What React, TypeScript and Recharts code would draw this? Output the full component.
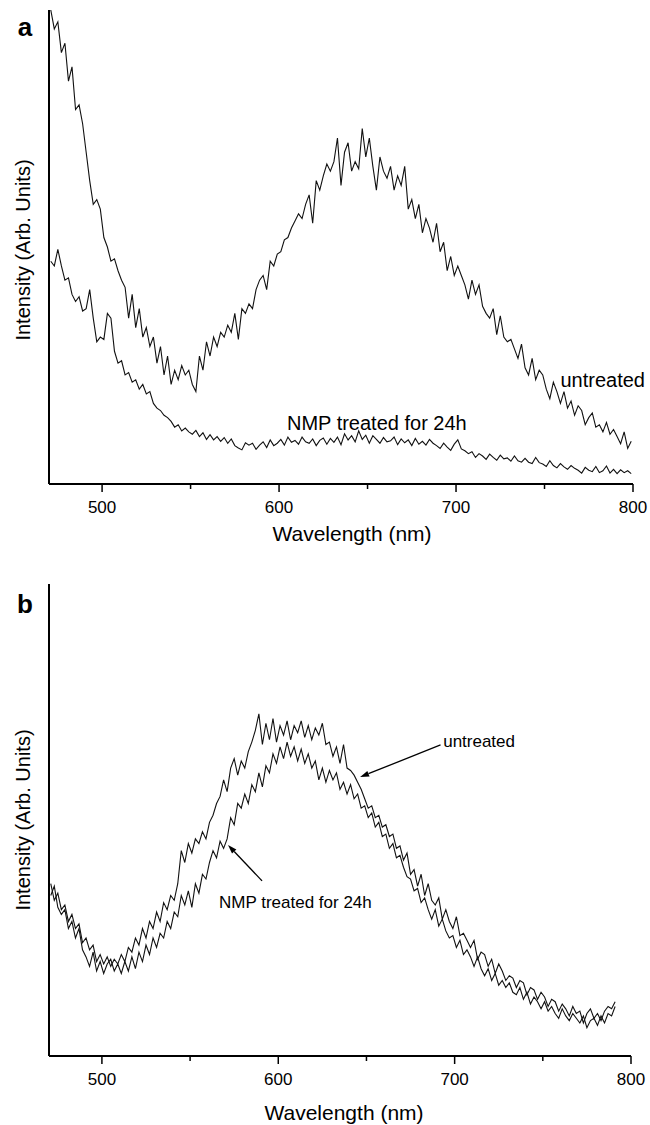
import React from 'react';
import { LineChart, Line, XAxis, YAxis, ReferenceLine, ReferenceDot } from 'recharts';

const wavelengths = [
  471, 473, 475, 477, 479, 481, 483, 485, 487, 489,
  491, 493, 495, 497, 499, 501, 503, 505, 507, 509,
  511, 513, 515, 517, 519, 521, 523, 525, 527, 529,
  531, 533, 535, 537, 539, 541, 543, 545, 547, 549,
  551, 553, 555, 557, 559, 561, 563, 565, 567, 569,
  571, 573, 575, 577, 579, 581, 583, 585, 587, 589,
  591, 593, 595, 597, 599, 601, 603, 605, 607, 609,
  611, 613, 615, 617, 619, 621, 623, 625, 627, 629,
  631, 633, 635, 637, 639, 641, 643, 645, 647, 649,
  651, 653, 655, 657, 659, 661, 663, 665, 667, 669,
  671, 673, 675, 677, 679, 681, 683, 685, 687, 689,
  691, 693, 695, 697, 699, 701, 703, 705, 707, 709,
  711, 713, 715, 717, 719, 721, 723, 725, 727, 729,
  731, 733, 735, 737, 739, 741, 743, 745, 747, 749,
  751, 753, 755, 757, 759, 761, 763, 765, 767, 769,
  771, 773, 775, 777, 779, 781, 783, 785, 787, 789,
  791, 793, 795, 797, 799,
];

// Panel a
const untreatedA = [
  100, 96, 97.5, 91, 93, 85, 88, 79, 80, 76,
  70, 64, 59, 60, 58, 52, 50, 47, 47.5, 45,
  43, 41.5, 35, 40, 33, 37, 31, 33, 29, 31,
  25.5, 29, 23, 27, 21, 24, 22, 25, 23, 24,
  21, 19.5, 27, 24, 30, 27, 31, 29, 32, 31,
  33.5, 32, 36, 30.5, 37, 36, 38, 37, 41, 43,
  44, 41, 47, 46, 48.5, 49, 51.5, 52, 54, 55.5,
  57, 56, 59, 61, 55, 64, 62, 65, 67.5, 66,
  68, 73, 63, 70, 72, 66, 68, 66.5, 75, 69,
  73, 67, 62, 69, 66, 64.5, 67, 62, 65, 63,
  67, 58, 60, 56, 59, 53, 56, 54, 51, 55,
  49, 51, 45, 48, 44, 46, 44, 42, 39, 43,
  40, 42, 37.5, 36, 35, 37, 31.5, 35.5, 31, 30,
  30.5, 28.5, 26.5, 29.5, 24.5, 23, 26.5, 22, 24, 23,
  20, 18, 21.5, 19.5, 17, 19.5, 16, 17.5, 14.5, 16.5,
  15.5, 12.5, 14, 15, 12, 12.5, 11, 13, 10.5, 11.5,
  10, 8.5, 11, 7.5, 9,
];

const nmpA = [
  47, 46, 49.5, 46, 43, 43.5, 40, 38.5, 39.5, 36.5,
  37, 41, 35, 30, 31, 30.5, 36, 35, 28, 25.5,
  26, 23, 23.5, 21.5, 22, 20, 21, 19, 19.5, 17,
  16, 15.5, 14.5, 14, 13.2, 12, 12.5, 11.2, 11.8, 11,
  10.5, 11.3, 10, 10.8, 9.4, 10.4, 9.3, 10, 9, 9.8,
  8.6, 9.5, 8.1, 7.6, 7.2, 8.7, 8.2, 8.6, 7.3, 8.2,
  8.9, 7.7, 9.3, 8.1, 8.6, 9.4, 8.2, 9.9, 8.8, 9.2,
  8.4, 9.9, 8.9, 8.6, 9.5, 8.1, 9.2, 9.7, 8.4, 9.6,
  8.8, 9.9, 8.3, 10.6, 9.3, 10.2, 8.9, 11.2, 9.4, 10.3,
  8.6, 10.2, 9.4, 8.6, 9.8, 8.9, 9.1, 9.9, 8.3, 9.5,
  8.7, 9.3, 8.1, 9.6, 8.4, 9.0, 8.2, 9.4, 8.6, 8.1,
  7.5, 8.6, 7.8, 7.1, 8.4, 9.3, 7.4, 7.0, 6.4, 6.8,
  5.6, 6.4, 5.9, 5.2, 6.3, 5.6, 5.0, 6.1, 5.3, 5.5,
  4.8, 5.9, 4.9, 4.6, 5.4, 4.6, 4.3, 5.6, 4.5, 4.2,
  3.7, 4.9, 3.9, 3.4, 4.3, 3.6, 3.1, 3.9, 3.3, 2.9,
  2.3, 3.5, 2.9, 2.6, 3.7, 2.4, 2.8, 3.8, 2.3, 3.1,
  2.2, 3.0, 2.4, 2.8, 2.2,
];

// Panel b
const untreatedB = [
  36.5, 33, 34.5, 31, 32, 28.5, 30, 27, 28, 24,
  25, 22.5, 23.5, 20, 21.5, 19.5, 21, 19, 20.5, 19.5,
  21.5, 20, 23, 22, 25, 23.5, 27, 25, 28.5, 27,
  30.5, 28.5, 32.5, 31, 34, 33, 36.5, 43.5, 41, 45,
  43, 46, 45, 47.5, 46, 49.5, 51, 53.5, 55, 58.5,
  56, 61, 63, 59.5, 62.5, 61, 64.5, 66.5, 69, 72.5,
  66, 70.5, 67, 71.5, 66.5, 70, 68, 71, 67, 70,
  68.5, 71, 67.5, 70, 67, 69.5, 68, 70.5, 66, 66.5,
  63.5, 65.5, 62, 66, 61, 60.5, 59.5, 58, 56.5, 54.5,
  52.5, 53, 50.5, 51, 48.5, 49, 46.5, 47, 44, 44.5,
  41.5, 43, 38.5, 39.5, 36, 38.5, 34, 36.5, 33, 32,
  33.5, 29, 31, 28.5, 27, 29.5, 25.5, 26, 24.5, 23,
  24.5, 20.5, 22, 21.5, 19, 20.5, 17.5, 19.5, 18, 16,
  17, 16.5, 14.5, 16, 15.5, 13, 14.5, 14, 12, 13.5,
  12.5, 10.5, 12, 11.5, 9.5, 11, 10, 8.5, 10.5, 9,
  9.5, 7, 9, 10, 8, 9, 7.5, 9.5, 10.5, 10,
  11.5,
];

const nmpB = [
  34, 36, 31.5, 30, 31, 27, 28.5, 25, 27, 22.5,
  21, 19, 22, 18, 20, 17.5, 19.5, 20.5, 18, 19.5,
  17.5, 20, 18, 21, 18.5, 22, 20, 23.5, 21.5, 25,
  23, 26, 25, 28.5, 27, 30.5, 29.5, 34, 32, 35,
  31.5, 36.5, 34.5, 38.5, 37.5, 41, 43.5, 42, 45.5, 44,
  46, 50.5, 49, 53.5, 52.5, 55.5, 53.5, 57.5, 56, 60,
  57, 61.5, 60, 64, 62, 65.5, 63, 66.5, 63.5, 65.5,
  62.5, 65, 62, 64, 61, 62.5, 58.5, 61, 58, 60.5,
  58.5, 60, 56.5, 58, 55.5, 57.5, 54.5, 55.5, 52.5, 53,
  50.5, 51.5, 48.5, 49.5, 46.5, 47, 44, 45, 42, 42.5,
  40, 38, 37.5, 35, 35.5, 32.5, 33.5, 31, 29, 31,
  27.5, 29, 26.5, 25, 25.5, 23, 24.5, 21.5, 22.5, 21,
  19, 21, 18.5, 17, 18.5, 16, 17.5, 15, 16, 14.5,
  15.5, 13.5, 13, 14.5, 12, 13.5, 11, 12.5, 11.5, 10,
  11.5, 9.5, 10.5, 9, 8, 10, 8.5, 7.5, 9, 8,
  7, 8.5, 6, 7.5, 8, 6.5, 8.5, 7, 9, 8.5,
  10.5,
];

const xTicks = [500, 550, 600, 650, 700, 750, 800];
const majorTicks = [500, 600, 700, 800];

const rowsA = wavelengths.map((nm, i) => ({ nm, untreated: untreatedA[i], nmp: nmpA[i] }));
const rowsB = wavelengths.map((nm, i) => ({
  nm,
  untreated: i < untreatedB.length ? untreatedB[i] : null,
  nmp: i < nmpB.length ? nmpB[i] : null,
}));

const FONT = '"Liberation Sans", Arial, Helvetica, sans-serif';

function WaveTick(props: any) {
  const { x, y, payload } = props;
  const v = payload?.value;
  const major = majorTicks.includes(v);
  return (
    <g>
      <line x1={x} x2={x} y1={y} y2={y + (major ? 8 : 5)} stroke="#000" strokeWidth={1.5} />
      {major && (
        <text x={x} y={y + 23} textAnchor="middle" dominantBaseline="central" fontSize={17} fontFamily={FONT} fill="#000">
          {v}
        </text>
      )}
    </g>
  );
}

function Arrow(props: any) {
  const { x1, y1, x2, y2 } = props;
  const ang = Math.atan2(y2 - y1, x2 - x1);
  const len = 9;
  const w = 3;
  const bx = x2 - len * Math.cos(ang);
  const by = y2 - len * Math.sin(ang);
  const px = -Math.sin(ang) * w;
  const py = Math.cos(ang) * w;
  return (
    <g>
      <line x1={x1} y1={y1} x2={bx} y2={by} stroke="#000" strokeWidth={1.3} />
      <polygon points={`${x2},${y2} ${bx + px},${by + py} ${bx - px},${by - py}`} fill="#000" />
    </g>
  );
}

function makeLabel(text: string, size: number) {
  return (p: any) => (
    <text x={p.cx} y={p.cy} fontSize={size} fontFamily={FONT} fill="#000" textAnchor="start">
      {text}
    </text>
  );
}

const absText = (left: number, top: number, extra: React.CSSProperties = {}): React.CSSProperties => ({
  position: 'absolute',
  left,
  top,
  transform: 'translate(-50%, -50%)',
  whiteSpace: 'nowrap',
  fontFamily: FONT,
  color: '#000',
  lineHeight: 1,
  ...extra,
});

export default function App() {
  return (
    <div style={{ position: 'absolute', left: 0, top: 0, width: 650, height: 1125, background: '#fff', fontFamily: FONT }}>
      <div style={{ position: 'absolute', left: 0, top: 0 }}>
        <LineChart width={650} height={560} data={rowsA} margin={{ top: 10, right: 17, left: 0, bottom: 0 }}>
          <XAxis
            dataKey="nm"
            type="number"
            domain={[470, 800]}
            ticks={xTicks}
            interval={0}
            height={76}
            tickLine={false}
            tickSize={0}
            tickMargin={0}
            tick={<WaveTick />}
            axisLine={{ stroke: '#000', strokeWidth: 2 }}
            allowDataOverflow
          />
          <YAxis
            type="number"
            domain={[0, 100]}
            width={49}
            tick={false}
            tickLine={false}
            axisLine={{ stroke: '#000', strokeWidth: 2 }}
            allowDataOverflow
          />
          <Line type="linear" dataKey="untreated" stroke="#111" strokeWidth={1.1} dot={false} isAnimationActive={false} />
          <Line type="linear" dataKey="nmp" stroke="#111" strokeWidth={1.1} dot={false} isAnimationActive={false} />
          <ReferenceDot x={759} y={20.5} r={0} shape={makeLabel('untreated', 20)} />
          <ReferenceDot x={604.5} y={11.4} r={0} shape={makeLabel('NMP treated for 24h', 20)} />
        </LineChart>
      </div>
      <div style={{ position: 'absolute', left: 0, top: 574 }}>
        <LineChart width={650} height={551} data={rowsB} margin={{ top: 10, right: 19, left: 0, bottom: 0 }}>
          <XAxis
            dataKey="nm"
            type="number"
            domain={[470, 800]}
            ticks={xTicks}
            interval={0}
            height={69}
            tickLine={false}
            tickSize={0}
            tickMargin={0}
            tick={<WaveTick />}
            axisLine={{ stroke: '#000', strokeWidth: 2 }}
            allowDataOverflow
          />
          <YAxis
            type="number"
            domain={[0, 100]}
            width={49}
            tick={false}
            tickLine={false}
            axisLine={{ stroke: '#000', strokeWidth: 2 }}
            allowDataOverflow
          />
          <Line type="linear" dataKey="untreated" stroke="#111" strokeWidth={1.1} dot={false} isAnimationActive={false} />
          <Line type="linear" dataKey="nmp" stroke="#111" strokeWidth={1.1} dot={false} isAnimationActive={false} />
          <ReferenceLine segment={[{ x: 692, y: 65.9 }, { x: 646.4, y: 59.1 }]} shape={<Arrow />} />
          <ReferenceLine segment={[{ x: 590.8, y: 37.1 }, { x: 571.5, y: 44.7 }]} shape={<Arrow />} />
          <ReferenceDot x={693.5} y={65.5} r={0} shape={makeLabel('untreated', 17)} />
          <ReferenceDot x={566.4} y={31.4} r={0} shape={makeLabel('NMP treated for 24h', 17)} />
        </LineChart>
      </div>
      <div style={absText(25, 27, { fontSize: 26, fontWeight: 'bold' })}>a</div>
      <div style={absText(25, 604, { fontSize: 26, fontWeight: 'bold' })}>b</div>
      <div style={absText(23, 250, { fontSize: 20, transform: 'translate(-50%, -50%) rotate(-90deg)' })}>Intensity (Arb. Units)</div>
      <div style={absText(23, 820, { fontSize: 20, transform: 'translate(-50%, -50%) rotate(-90deg)' })}>Intensity (Arb. Units)</div>
      <div style={absText(352, 533, { fontSize: 21 })}>Wavelength (nm)</div>
      <div style={absText(344, 1112, { fontSize: 21 })}>Wavelength (nm)</div>
    </div>
  );
}
